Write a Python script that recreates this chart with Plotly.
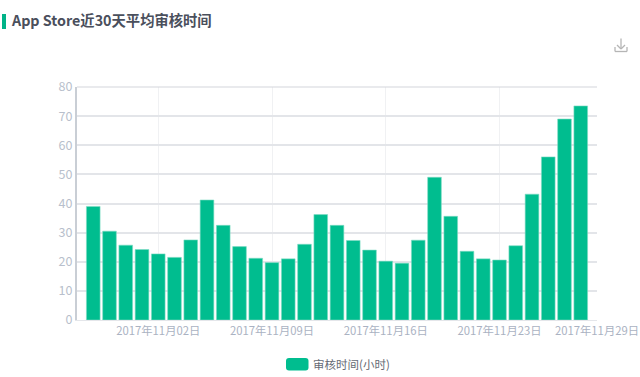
import plotly.graph_objects as go
import pandas as pd

dates = pd.date_range("2017-10-29", "2017-11-28").strftime("%Y-%m-%d").tolist()
hours = [39, 30.5, 25.7, 24.2, 22.7, 21.5, 27.5, 41.2, 32.5, 25.2, 21.2, 19.7, 21, 26, 36.2, 32.5,
         27.3, 24, 20.2, 19.5, 27.4, 49, 35.6, 23.6, 21, 20.6, 25.5, 43.2, 56, 69, 73.5]
tick_dates = ["2017-11-02", "2017-11-09", "2017-11-16", "2017-11-23", "2017-11-29"]
tick_labels = ["2017年11月02日", "2017年11月09日", "2017年11月16日", "2017年11月23日", "2017年11月29日"]
series_name = "审核时间(小时)"
title_text = "App Store近30天平均审核时间"

FONT = "Noto Sans CJK SC"
W, H = 640, 377
L, R, T, B = 77, 597, 87, 320
GREEN = "#00BD8F"
DAY_MS = 86400000


def qx(x):
    return (x - L) / (R - L)


def qy(y):
    return (B - y) / (B - T)


def rounded(x0, y0, x1, y1, r):
    return (f"M{qx(x0 + r)},{qy(y0)} L{qx(x1 - r)},{qy(y0)} Q{qx(x1)},{qy(y0)} {qx(x1)},{qy(y0 + r)} "
            f"L{qx(x1)},{qy(y1 - r)} Q{qx(x1)},{qy(y1)} {qx(x1 - r)},{qy(y1)} "
            f"L{qx(x0 + r)},{qy(y1)} Q{qx(x0)},{qy(y1)} {qx(x0)},{qy(y1 - r)} "
            f"L{qx(x0)},{qy(y0 + r)} Q{qx(x0)},{qy(y0)} {qx(x0 + r)},{qy(y0)} Z")


def seg(x0, y0, x1, y1):
    return dict(type="line", xref="paper", yref="paper", x0=qx(x0), y0=qy(y0), x1=qx(x1), y1=qy(y1),
                line=dict(color="#b5b5b5", width=1.3))


fig = go.Figure(go.Bar(
    x=dates, y=hours, name=series_name, width=0.84 * DAY_MS,
    marker=dict(color=GREEN, line=dict(color="#7fdcc4", width=0.6)),
    showlegend=False,
))

fig.update_layout(
    width=W, height=H, autosize=False,
    margin=dict(l=L, r=W - R, t=T, b=H - B, pad=0, autoexpand=False),
    paper_bgcolor="white", plot_bgcolor="white",
    font=dict(family=FONT),
    xaxis=dict(
        type="date", range=["2017-10-28", "2017-11-29"], automargin=False,
        tickmode="array", tickvals=tick_dates, ticktext=tick_labels,
        tickangle=0, tickfont=dict(size=11.3, color="#aab2c2"),
        showgrid=True, gridcolor="#f0f1f3", gridwidth=1.2,
        ticks="", ticklen=0, showline=True, linecolor="#e4e6ea", linewidth=1,
    ),
    yaxis=dict(
        range=[0, 80], tickvals=list(range(0, 81, 10)), automargin=False,
        tickfont=dict(size=12.5, color="#b8bfcc"),
        showgrid=True, gridcolor="#e3e5e9", gridwidth=1.5,
        zeroline=False, ticks="", showline=True, linecolor="#c9ced5", linewidth=2,
    ),
    shapes=[
        dict(type="path", xref="paper", yref="paper", path=rounded(2, 14, 6, 29, 0.01),
             fillcolor="#00B388", line=dict(width=0)),
        dict(type="path", xref="paper", yref="paper", path=rounded(286, 358, 308.5, 370.5, 3),
             fillcolor=GREEN, line=dict(width=0)),
        dict(type="line", xref="paper", yref="paper", x0=qx(77), x1=qx(597), y0=qy(87), y1=qy(87),
             line=dict(color="#d3d6db", width=1.2)),
        seg(621, 38.5, 621, 49),
        seg(617, 45, 621, 49),
        seg(625, 45, 621, 49),
        seg(615, 47, 615, 51.5),
        seg(627, 47, 627, 51.5),
        seg(615, 51.5, 627, 51.5),
    ],
)

fig.add_annotation(xref="paper", yref="paper", x=qx(8.5), y=qy(20), text=f"<b>{title_text}</b>",
                   showarrow=False, xanchor="left", yanchor="middle",
                   font=dict(size=14.3, color="#4a4f5c", family=FONT))
fig.add_annotation(xref="paper", yref="paper", x=qx(311), y=qy(364), text=series_name,
                   showarrow=False, xanchor="left", yanchor="middle",
                   font=dict(size=11.5, color="#666b75", family=FONT))

fig.write_html("out.html", config={"displayModeBar": False},
               post_script="document.body.style.margin='0';document.documentElement.style.overflow='hidden';")
